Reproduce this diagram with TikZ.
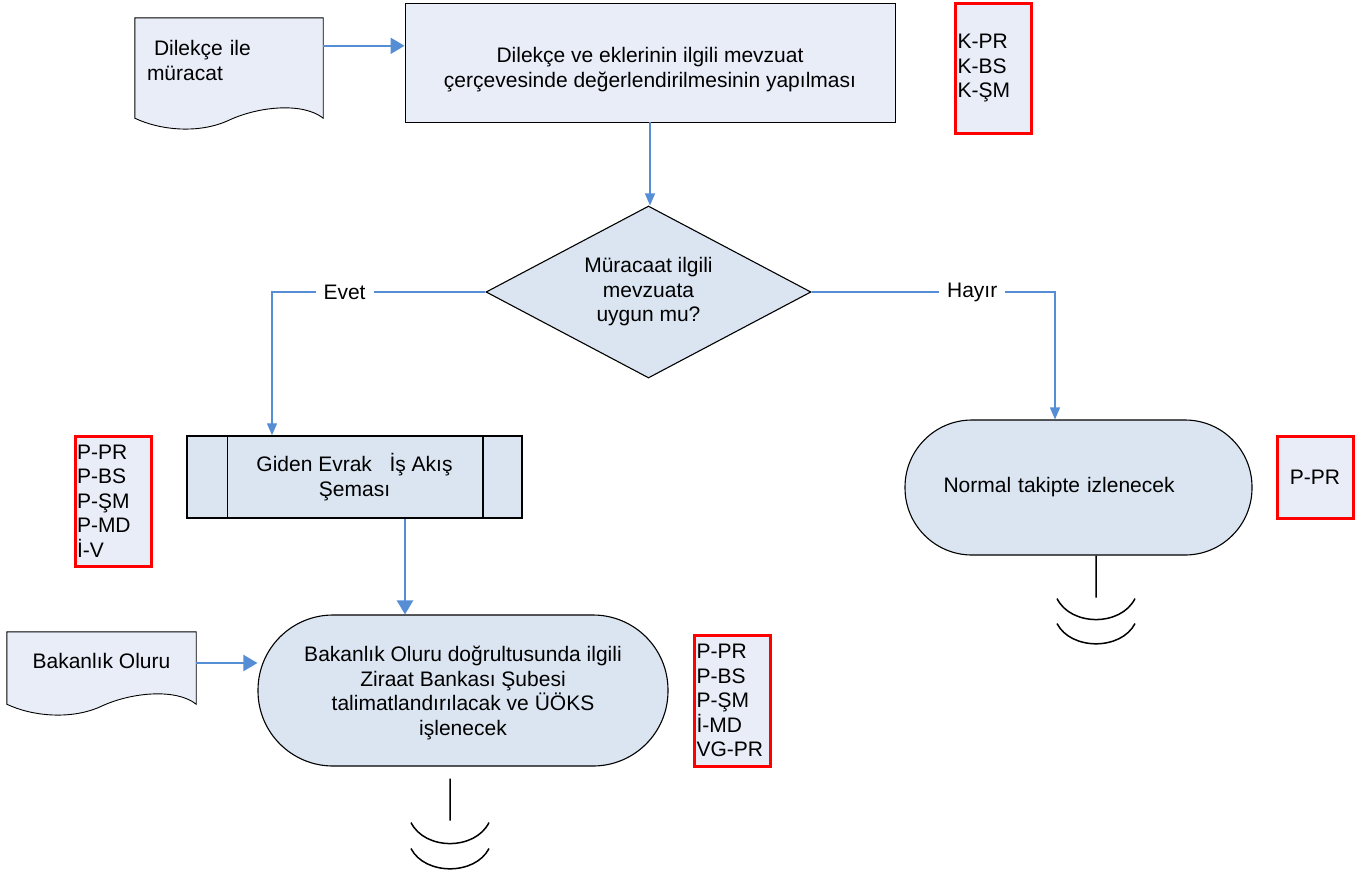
\documentclass[tikz,border=0pt]{standalone}
\usepackage{fontspec}
\setmainfont{Liberation Sans}
\usetikzlibrary{positioning,calc,arrows.meta,backgrounds,shapes.geometric}

\definecolor{docfill}{HTML}{E9EDF8}
\definecolor{stepfill}{HTML}{DBE5F1}
\definecolor{akisblue}{HTML}{558ED5}

% wavy document outline behind a node
\newcommand\belgeedge[1]{%
  \begin{pgfonlayer}{background}
    \draw[belge] (#1.north west) -- (#1.north east) -- (#1.south east)
      .. controls +(-20,-16) and +(30,-14) .. ($(#1.south west)!.5!(#1.south east)+(0,2)$)
      .. controls +(-30,14) and +(25,12) .. (#1.south west) -- cycle;
  \end{pgfonlayer}}

\begin{document}
\begin{tikzpicture}[x=1pt,y=-1pt,
  every node/.style={font=\fontsize{21}{24.5}\selectfont,inner sep=2pt},
  belge/.style={draw=black,line width=0.9pt,fill=docfill},
  kutu/.style={rectangle,draw=black,line width=0.9pt,fill=docfill,align=center},
  karar/.style={diamond,aspect=1.89,draw=black,line width=1.1pt,fill=stepfill,align=center,
                minimum width=325pt,minimum height=172pt},
  surec/.style={rectangle,draw=black,line width=1.5pt,fill=stepfill,align=center},
  bitis/.style={rectangle,draw=black,line width=1.1pt,fill=stepfill},
  sorumlu/.style={rectangle,draw=red,line width=3pt,fill=docfill,align=left,
                  text width=72pt,inner xsep=2pt},
  ok/.style={draw=akisblue,line width=2.2pt,-{Triangle[length=14pt,width=16pt]}},
  inceok/.style={draw=akisblue,line width=1.2pt,-{Triangle[length=12pt,width=10pt]}},
  etiket/.style={fill=white,inner xsep=8pt,inner ysep=2pt},
  bag/.style={draw=black,line width=1.5pt}]
  \useasboundingbox (0,0) rectangle (1359,873);

  \node (dilekce) [minimum width=188pt,minimum height=100pt,text width=164pt,
                   align=left,text height=15pt,text depth=40pt] at (229,68) {\ Dilekçe ile\\müracat};
  \node (degerlendirme) [kutu,minimum width=490pt,minimum height=119pt,text height=54pt] at (650,62.5)
        {Dilekçe ve eklerinin ilgili mevzuat\\çerçevesinde değerlendirilmesinin yapılması};
  \node (kliste) [sorumlu,minimum height=130pt] at (993.5,68) {K-PR\\K-BS\\K-ŞM};
  \node (uygun) [karar] at (648.5,292) {Müracaat ilgili\\mevzuata\\uygun mu?};
  \node (giden) [surec,minimum width=335pt,minimum height=82pt] at (354.5,477)
        {Giden Evrak\ \ \ İş Akış\\Şeması};
  \node (pliste1) [sorumlu,minimum height=130pt] at (113,501) {P-PR\\P-BS\\P-ŞM\\P-MD\\İ-V};
  \node (normal) [bitis,minimum width=347pt,minimum height=135pt,rounded corners=67pt,
                  text width=270pt,align=left] at (1078.5,487.5) {Normal takipte izlenecek};
  \node (pliste3) [sorumlu,minimum height=82pt,align=center] at (1315,477) {P-PR};
  \node (bakanlik) [bitis,minimum width=410pt,minimum height=151pt,rounded corners=75pt,
                    align=center,text height=94pt] at (463,690.5)
        {Bakanlık Oluru doğrultusunda ilgili\\Ziraat Bankası Şubesi\\talimatlandırılacak ve ÜÖKS\\işlenecek};
  \node (oluru) [minimum width=189pt,minimum height=72pt,text height=2pt] at (101.5,668) {Bakanlık Oluru};
  \node (pliste2) [sorumlu,minimum height=131pt] at (732.5,700.5) {P-PR\\P-BS\\P-ŞM\\İ-MD\\VG-PR};

  \belgeedge{dilekce}
  \belgeedge{oluru}

  \draw[bag] ([xshift=41pt]giden.north west) -- ([xshift=41pt]giden.south west)
             ([xshift=-40pt]giden.north east) -- ([xshift=-40pt]giden.south east);

  \draw[ok] ([yshift=-28pt]dilekce.north east) -- ([yshift=-28pt]dilekce.north east -| degerlendirme.west);
  \draw[inceok] (degerlendirme.south) -- (degerlendirme.south |- uygun.north);
  \draw[inceok] (uygun.west) -| node[etiket,pos=.33] {Evet} ([xshift=-82.5pt]giden.north);
  \draw[inceok] (uygun.east) -| node[etiket,pos=.33] {Hayır} ([xshift=-23.5pt]normal.north);
  \draw[ok] ([xshift=50.5pt]giden.south) -- ([xshift=50.5pt]giden.south |- bakanlik.north);
  \draw[ok] ([yshift=5pt]oluru.east) -- ([yshift=5pt]oluru.east -| bakanlik.west);

  % sayfa sonu baglayicilari
  \draw[bag] ([xshift=-13pt,yshift=-12pt]bakanlik.south) -- ++(0,42)
    ++(-39,2) .. controls +(14,28) and +(-14,28) .. ++(78,0)
    ++(-78,26) .. controls +(14,27) and +(-14,27) .. ++(78,0);
  \draw[bag] ([xshift=17.5pt]normal.south) -- ++(0,42)
    ++(-39,1) .. controls +(14,28) and +(-14,28) .. ++(78,0)
    ++(-78,25) .. controls +(14,27) and +(-14,27) .. ++(78,0);
\end{tikzpicture}
\end{document}
